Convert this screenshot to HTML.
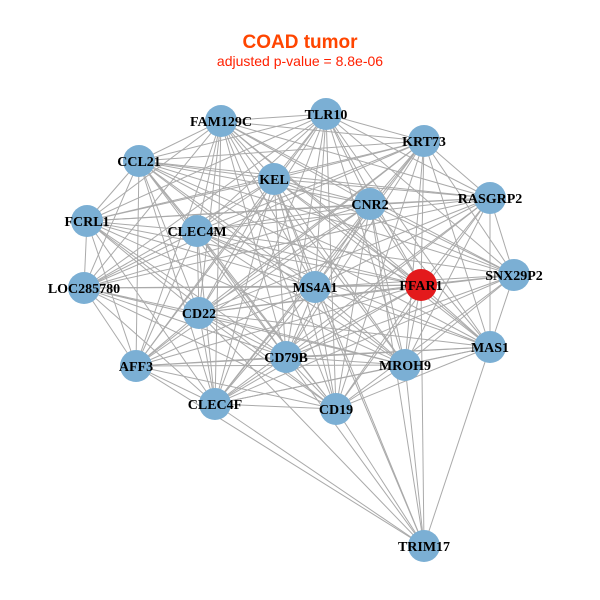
<!DOCTYPE html>
<html><head><meta charset="utf-8"><style>
html,body{margin:0;padding:0;background:#fff;width:600px;height:600px;overflow:hidden}
svg{display:block}
.t{font-family:"Liberation Serif",serif;font-weight:bold;font-size:14px;fill:#000}
</style></head><body>
<svg id="g" width="600" height="600" xmlns="http://www.w3.org/2000/svg">
<text x="300" y="48" text-anchor="middle" font-family="Liberation Sans,sans-serif" font-weight="bold" font-size="19" fill="#FF4500">COAD tumor</text>
<text x="300" y="66" text-anchor="middle" font-family="Liberation Sans,sans-serif" font-size="14" fill="#FF2000">adjusted p-value = 8.8e-06</text>
<g id="e" stroke="#aaaaaa" stroke-width="1"></g>
<g id="n"></g>
</svg>
<script>
var N={FAM129C:[221,121],TLR10:[326,114],KRT73:[424,141],CCL21:[139,161],KEL:[274,179],CNR2:[370,204],RASGRP2:[490,198],FCRL1:[87,221],CLEC4M:[197,231],LOC285780:[84,288],MS4A1:[315,287],FFAR1:[421,285],SNX29P2:[514,275],CD22:[199,313],AFF3:[136,366],CD79B:[286,357],MROH9:[405,365],MAS1:[490,347],CLEC4F:[215,404],CD19:[336,409],TRIM17:[424,546]};
var k=Object.keys(N),e=document.getElementById('e'),n=document.getElementById('n'),ns="http://www.w3.org/2000/svg";
var tr=["CLEC4F","AFF3","CD22","CD79B","MS4A1","CD19","KEL","CNR2","MROH9","FFAR1","MAS1"];
var skip={"LOC285780|SNX29P2":1,"FCRL1|SNX29P2":1,"FCRL1|MAS1":1,"LOC285780|MAS1":1,"AFF3|RASGRP2":1,"AFF3|SNX29P2":1};
for(var i=0;i<k.length;i++)for(var j=i+1;j<k.length;j++){var a=k[i],b=k[j];
if(a=="TRIM17"||b=="TRIM17"){var o=a=="TRIM17"?b:a;if(tr.indexOf(o)<0)continue;}
if(skip[a+"|"+b]||skip[b+"|"+a])continue;
var l=document.createElementNS(ns,'line');l.setAttribute('x1',N[a][0]);l.setAttribute('y1',N[a][1]);l.setAttribute('x2',N[b][0]);l.setAttribute('y2',N[b][1]);e.appendChild(l);}
k.forEach(function(a){var c=document.createElementNS(ns,'circle');c.setAttribute('cx',N[a][0]);c.setAttribute('cy',N[a][1]);c.setAttribute('r',16);c.setAttribute('fill',a=="FFAR1"?"#e31a1c":"#7bafd4");n.appendChild(c);});
k.forEach(function(a){var t=document.createElementNS(ns,'text');t.setAttribute('x',N[a][0]);t.setAttribute('y',N[a][1]+5);t.setAttribute('text-anchor','middle');t.setAttribute('class','t');t.textContent=a;n.appendChild(t);});
</script>
</body></html>
